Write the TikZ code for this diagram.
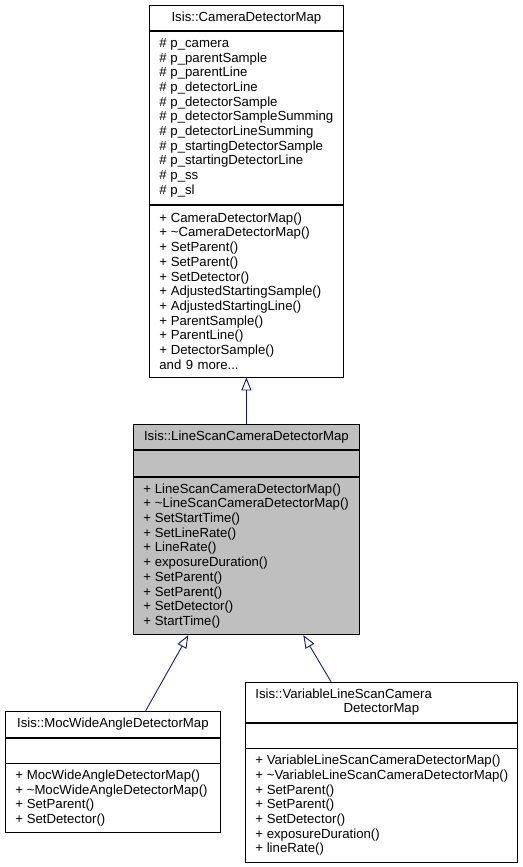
\documentclass[tikz,border=0pt]{standalone}
\usepackage{fontspec}
\setmainfont{Liberation Sans}
\usetikzlibrary{positioning,arrows.meta}
\definecolor{edgeblue}{HTML}{191970}
\definecolor{curgray}{HTML}{BFBFBF}
\hyphenpenalty=10000
\exhyphenpenalty=10000
\newcommand{\umlop}[1]{+\nobreak\hskip 0.28em\relax #1}
\newcommand{\umlattr}[1]{\#\nobreak\hskip 0.28em\relax #1}
\begin{document}
\begin{tikzpicture}[x=1pt,y=-1pt,
		part/.style={draw,line width=0.8pt,inner xsep=10pt,inner ysep=0pt,align=left,font=\fontsize{13.2}{14.7}\selectfont},
		head/.style={part,align=center},
		inh/.style={draw=edgeblue,line width=0.9pt,-{Triangle[open,length=13pt,width=10pt]}}]
	\useasboundingbox (0,0) rectangle (522,867);
	% Isis::CameraDetectorMap
	\node[head,anchor=north west,text width=174pt,minimum height=25pt] (cdm) at (149,5) {Isis::CameraDetectorMap};
	\node[part,below=0pt of cdm,text width=174pt,minimum height=173pt] (cdm-attr) {\umlattr{p\_camera}\\\umlattr{p\_parentSample}\\\umlattr{p\_parentLine}\\\umlattr{p\_detectorLine}\\\umlattr{p\_detectorSample}\\\umlattr{p\_detectorSampleSumming}\\\umlattr{p\_detectorLineSumming}\\\umlattr{p\_startingDetectorSample}\\\umlattr{p\_startingDetectorLine}\\\umlattr{p\_ss}\\\umlattr{p\_sl}};
	\node[part,below=0pt of cdm-attr,text width=174pt,minimum height=172pt] (cdm-ops) {\umlop{CameraDetectorMap()}\\\umlop{\textasciitilde CameraDetectorMap()}\\\umlop{SetParent()}\\\umlop{SetParent()}\\\umlop{SetDetector()}\\\umlop{AdjustedStartingSample()}\\\umlop{AdjustedStartingLine()}\\\umlop{ParentSample()}\\\umlop{ParentLine()}\\\umlop{DetectorSample()}\\and 9 more...};
	% Isis::LineScanCameraDetectorMap
	\node[head,fill=curgray,anchor=north west,text width=206pt,minimum height=25pt] (lsc) at (133,424) {Isis::LineScanCameraDetectorMap};
	\node[part,fill=curgray,below=0pt of lsc,text width=206pt,minimum height=26pt] (lsc-attr) {};
	\node[part,fill=curgray,below=0pt of lsc-attr,text width=206pt,minimum height=157.7pt] (lsc-ops) {\umlop{LineScanCameraDetectorMap()}\\\umlop{\textasciitilde LineScanCameraDetectorMap()}\\\umlop{SetStartTime()}\\\umlop{SetLineRate()}\\\umlop{LineRate()}\\\umlop{exposureDuration()}\\\umlop{SetParent()}\\\umlop{SetParent()}\\\umlop{SetDetector()}\\\umlop{StartTime()}};
	% Isis::MocWideAngleDetectorMap
	\node[head,anchor=north west,text width=195pt,minimum height=26pt] (moc) at (5,710.7) {Isis::MocWideAngleDetectorMap};
	\node[part,below=0pt of moc,text width=195pt,minimum height=25pt] (moc-attr) {};
	\node[part,below=0pt of moc-attr,text width=195pt,minimum height=69pt] (moc-ops) {\umlop{MocWideAngleDetectorMap()}\\\umlop{\textasciitilde MocWideAngleDetectorMap()}\\\umlop{SetParent()}\\\umlop{SetDetector()}};
	% Isis::VariableLineScanCameraDetectorMap
	\node[head,anchor=north west,text width=252pt,minimum height=40pt] (vls) at (245,681.7) {\makebox[\hsize][l]{Isis::VariableLineScanCamera}\\DetectorMap};
	\node[part,below=0pt of vls,text width=252pt,minimum height=25pt] (vls-attr) {};
	\node[part,below=0pt of vls-attr,text width=252pt,minimum height=113.3pt] (vls-ops) {\umlop{VariableLineScanCameraDetectorMap()}\\\umlop{\textasciitilde VariableLineScanCameraDetectorMap()}\\\umlop{SetParent()}\\\umlop{SetParent()}\\\umlop{SetDetector()}\\\umlop{exposureDuration()}\\\umlop{lineRate()}};
	% inheritance
	\coordinate (lsc-l) at ([xshift=55.3pt]lsc-ops.south west);
	\coordinate (lsc-r) at ([xshift=170.3pt]lsc-ops.south west);
	\coordinate (moc-in) at ([xshift=140.7pt]moc.north west);
	\coordinate (vls-in) at ([xshift=86pt]vls.north west);
	\draw[inh] (lsc.north) -- (cdm-ops.south);
	\draw[inh] (moc-in) -- (lsc-l);
	\draw[inh] (vls-in) -- (lsc-r);
\end{tikzpicture}
\end{document}
